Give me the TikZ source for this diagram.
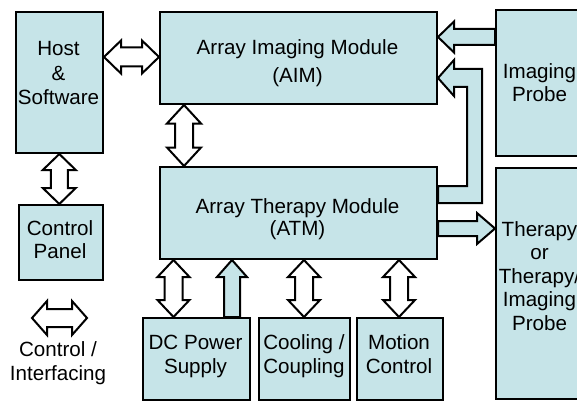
\documentclass[tikz,border=0pt]{standalone}
\usepackage{fontspec}
\setmainfont{Liberation Sans}
\usetikzlibrary{calc}
\definecolor{boxfill}{RGB}{198,228,232}
% vertical block double arrow: style, x, upper anchor, lower anchor, head half-width, shaft half-width, head length
\newcommand\vdbl[7]{%
\draw[#1] let \p1=(#3), \p2=(#4) in
 (#2pt,\y1) -- (#2pt+#5pt,\y1-#7pt) -- (#2pt+#6pt,\y1-#7pt) -- (#2pt+#6pt,\y2+#7pt) -- (#2pt+#5pt,\y2+#7pt) -- (#2pt,\y2)
 -- (#2pt-#5pt,\y2+#7pt) -- (#2pt-#6pt,\y2+#7pt) -- (#2pt-#6pt,\y1-#7pt) -- (#2pt-#5pt,\y1-#7pt) -- cycle;}
% horizontal block double arrow: style, y (downwards), left anchor, right anchor, head half-width, shaft half-width, head length
\newcommand\hdbl[7]{%
\draw[#1] let \p1=(#3), \p2=(#4) in
 (\x1,-#2pt) -- (\x1+#7pt,-#2pt+#5pt) -- (\x1+#7pt,-#2pt+#6pt) -- (\x2-#7pt,-#2pt+#6pt) -- (\x2-#7pt,-#2pt+#5pt) -- (\x2,-#2pt)
 -- (\x2-#7pt,-#2pt-#5pt) -- (\x2-#7pt,-#2pt-#6pt) -- (\x1+#7pt,-#2pt-#6pt) -- (\x1+#7pt,-#2pt-#5pt) -- cycle;}
\begin{document}
\begin{tikzpicture}[x=1pt,y=-1pt,
  blk/.style={draw=black, line width=2pt, fill=boxfill, inner sep=0pt, anchor=north west},
  dbl/.style={draw=black, line width=2pt, fill=white, line join=miter},
  sgl/.style={draw=black, line width=2pt, fill=boxfill, line join=miter},
  lbl/.style={anchor=base, inner sep=0pt, font=\fontsize{20.6}{23.5}\selectfont}]
\clip (0,0) rectangle (577,401);
\fill[white] (0,0) rectangle (577,401);
% boxes
\node[blk, minimum width=87pt,  minimum height=141pt] (host) at (15,11) {};
\node[blk, minimum width=277pt, minimum height=92pt]  (aim) at (159,11) {};
\node[blk, minimum width=277pt, minimum height=92pt]  (atm) at (159,166) {};
\node[blk, minimum width=84pt,  minimum height=75pt]  (cpanel) at (18,204) {};
\node[blk, minimum width=92pt,  minimum height=146pt] (imgprobe) at (495,9) {};
\node[blk, minimum width=92pt,  minimum height=231pt] (thprobe) at (495,167) {};
\node[blk, minimum width=107pt, minimum height=82pt]  (dc) at (142,317) {};
\node[blk, minimum width=91pt,  minimum height=82pt]  (cool) at (258,317) {};
\node[blk, minimum width=86pt,  minimum height=82pt]  (motion) at (356,317) {};
% texts
\node[lbl] (t-host1) at (58.5,55.7) {Host};
\node[lbl] (t-host2) at (58.5,80.5) {\&};
\node[lbl] (t-host3) at (58.5,104) {Software};
\node[lbl] (t-aim1) at (297.5,55) {Array Imaging Module};
\node[lbl] (t-aim2) at (297.5,82.5) {(AIM)};
\node[lbl] (t-atm1) at (297.5,213) {Array Therapy Module};
\node[lbl] (t-atm2) at (297.5,235.5) {(ATM)};
\node[lbl] (t-cp1) at (60,235) {Control};
\node[lbl] (t-cp2) at (60,258.3) {Panel};
\node[lbl] (t-leg1) at (58,356.7) {Control /};
\node[lbl] (t-leg2) at (58,380) {Interfacing};
\node[lbl] (t-dc1) at (195.5,349.5) {DC Power};
\node[lbl] (t-dc2) at (195.5,373) {Supply};
\node[lbl] (t-co1) at (304,349.5) {Cooling /};
\node[lbl] (t-co2) at (304,373) {Coupling};
\node[lbl] (t-mo1) at (399,349.5) {Motion};
\node[lbl] (t-mo2) at (399,373) {Control};
\node[lbl] (t-ip1) at (539.5,79) {Imaging};
\node[lbl] (t-ip2) at (539.5,102) {Probe};
\node[lbl] (t-tp1) at (539.5,236) {Therapy};
\node[lbl] (t-tp2) at (539.5,259) {or};
\node[lbl] (t-tp3) at (539.5,283) {Therapy/};
\node[lbl] (t-tp4) at (539.5,306) {Imaging};
\node[lbl] (t-tp5) at (539.5,330) {Probe};
% double arrows
\hdbl{dbl}{57}{host.east}{aim.west}{16.5}{9.5}{17}
\vdbl{dbl}{184}{aim.south}{atm.north}{17}{9}{18.5}
\vdbl{dbl}{59.3}{host.south}{cpanel.north}{16.5}{8.5}{16}
\vdbl{dbl}{173.5}{atm.south}{dc.north}{16}{9}{17}
\vdbl{dbl}{304}{atm.south}{cool.north}{16}{9}{17}
\vdbl{dbl}{399}{atm.south}{motion.north}{16}{9}{17}
\coordinate (legL) at (32,318);
\coordinate (legR) at (87,318);
\hdbl{dbl}{318}{legL}{legR}{17}{9}{15}
% single arrows
\draw[sgl] let \p1=(atm.south), \p2=(dc.north) in
  (232pt,\y1) -- (247pt,\y1-17pt) -- (240pt,\y1-17pt) -- (240pt,\y2) -- (224pt,\y2) -- (224pt,\y1-17pt) -- (217pt,\y1-17pt) -- cycle;
\draw[sgl] let \p1=(aim.east), \p2=(imgprobe.west) in
  (\x1,-37pt) -- (\x1+16pt,-21.5pt) -- (\x1+16pt,-29pt) -- (\x2,-29pt) -- (\x2,-45pt) -- (\x1+16pt,-45pt) -- (\x1+16pt,-52.5pt) -- cycle;
\draw[sgl] let \p1=(aim.east), \p2=(atm.east) in
  (\x2,-186pt) -- (467pt,-186pt) -- (467pt,-87pt) -- (\x1+16pt,-87pt) -- (\x1+16pt,-96pt) -- (\x1,-78pt)
  -- (\x1+16pt,-60pt) -- (\x1+16pt,-69pt) -- (482pt,-69pt) -- (482pt,-203pt) -- (\x2,-203pt) -- cycle;
\draw[sgl] let \p1=(atm.east), \p2=(thprobe.west) in
  (\x1,-221pt) -- (\x2-18pt,-221pt) -- (\x2-18pt,-213pt) -- (\x2,-228.5pt) -- (\x2-18pt,-244pt) -- (\x2-18pt,-236pt) -- (\x1,-236pt) -- cycle;
\end{tikzpicture}
\end{document}
